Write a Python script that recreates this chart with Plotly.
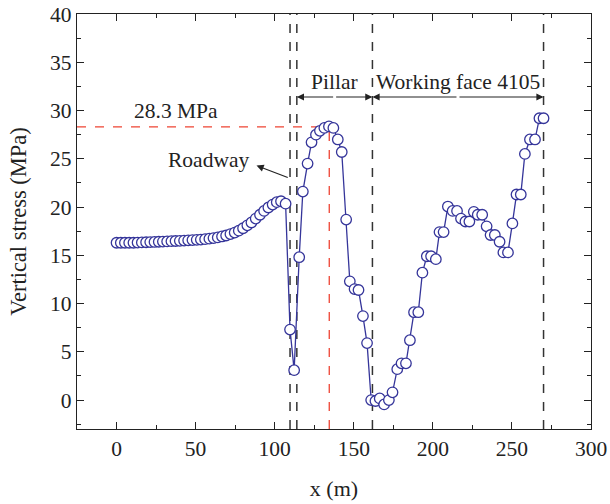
import plotly.graph_objects as go

# Left segment (coal ahead of roadway)
x_left = [0, 2.7, 5.3, 8.0, 10.7, 13.3, 16.0, 18.7, 21.3, 24.0, 26.7, 29.3, 32.0, 34.7, 37.3,
          40.0, 42.7, 45.3, 48.0, 50.7, 53.3, 56.0, 58.7, 61.3, 64.0, 66.7, 69.3, 72.0, 74.7,
          77.3, 80.0, 82.7, 85.3, 88.0, 90.7, 93.3, 96.0, 98.7, 101.3, 104.0, 106.9]
y_left = [16.3, 16.3, 16.3, 16.3, 16.3, 16.32, 16.33, 16.35, 16.37, 16.38, 16.4, 16.42, 16.44,
          16.46, 16.48, 16.5, 16.52, 16.55, 16.58, 16.6, 16.63, 16.67, 16.72, 16.78, 16.85,
          16.95, 17.05, 17.2, 17.35, 17.55, 17.8, 18.1, 18.4, 18.8, 19.2, 19.6, 19.95, 20.25,
          20.5, 20.6, 20.35]

# Roadway, pillar and working face 4105
x_right = [109.7, 112.3, 115.5, 117.8, 120.8, 123.3, 126.1, 128.6, 131.4, 134.3, 137.1, 139.9,
           142.4, 145.2, 147.5, 150.5, 153.0, 155.8, 158.4, 161.0, 163.7, 166.4, 169.2, 172.2,
           174.5, 177.5, 180.2, 183.0, 185.5, 188.1, 190.8, 193.4, 196.2, 198.9, 201.9, 204.2,
           206.8, 209.5, 212.5, 215.3, 217.8, 220.6, 223.1, 225.9, 228.4, 231.2, 234.0, 236.5,
           239.2, 242.2, 244.6, 247.5, 250.3, 252.9, 255.6, 258.2, 261.4, 264.6, 267.4, 270.0]
y_right = [7.3, 3.1, 14.8, 21.6, 24.5, 26.7, 27.5, 27.9, 28.2, 28.35, 28.2, 27.0,
           25.7, 18.7, 12.3, 11.5, 11.4, 8.7, 5.9, 0.0, -0.1, 0.17, -0.45, 0.0,
           0.8, 3.2, 3.8, 3.8, 6.2, 9.1, 9.1, 13.2, 14.9, 14.9, 14.6, 17.4,
           17.4, 20.05, 19.6, 19.6, 18.8, 18.5, 18.5, 19.5, 19.2, 19.2, 18.0, 17.1,
           17.1, 16.4, 15.3, 15.3, 18.3, 21.3, 21.3, 25.5, 27.0, 27.0, 29.2, 29.2]

x_vals = x_left + x_right
y_vals = y_left + y_right

boundary_x = [109.7, 114.0, 161.8, 270.0]
peak_x = 134.5
peak_y = 28.3
x_range = [-25, 300]
y_range = [-3, 40]

serif = "Liberation Serif"
blue = "#35359a"
ink = "#222222"

fig = go.Figure()
fig.add_trace(go.Scatter(
    x=x_vals, y=y_vals, mode="lines+markers",
    line=dict(color=blue, width=1.3),
    marker=dict(symbol="circle", size=10.5, color="white",
                line=dict(color=blue, width=1.3)),
    showlegend=False, cliponaxis=False))

shapes = []
for bx in boundary_x:
    shapes.append(dict(type="line", xref="x", yref="y", x0=bx, x1=bx, y0=y_range[0], y1=y_range[1],
                       line=dict(color="#333333", width=1.5, dash="dash"), layer="below"))
shapes.append(dict(type="line", xref="x", yref="y", x0=x_range[0], x1=peak_x, y0=peak_y, y1=peak_y,
                   line=dict(color="#ee4433", width=1.3, dash="dash"), layer="below"))
shapes.append(dict(type="line", xref="x", yref="y", x0=peak_x, x1=peak_x, y0=y_range[0], y1=peak_y,
                   line=dict(color="#ee4433", width=1.3, dash="dash"), layer="below"))

afont = dict(family=serif, size=21.5, color=ink)
annotations = [
    dict(x=37.5, y=29.9, text="28.3 MPa", showarrow=False, xref="x", yref="y", font=afont),
    dict(x=58, y=24.9, text="Roadway", showarrow=False, xref="x", yref="y", font=afont),
    dict(x=138, y=33.0, text="Pillar", showarrow=False, xref="x", yref="y", font=afont),
    dict(x=216, y=33.0, text="Working face 4105", showarrow=False, xref="x", yref="y", font=afont),
    # roadway arrow
    dict(x=88.5, y=24.3, ax=109.2, ay=23.0, xref="x", yref="y", axref="x", ayref="y",
         text="", showarrow=True, arrowhead=2, arrowsize=1.2, arrowwidth=1.2, arrowcolor=ink),
]
# double arrows for pillar and working face
for a, b in [(boundary_x[1], boundary_x[2]), (boundary_x[2], boundary_x[3])]:
    for s, e in [(a, b), (b, a)]:
        mid = (a + b) / 2
        annotations.append(dict(x=e, y=31.4, ax=mid, ay=31.4, xref="x", yref="y", axref="x", ayref="y",
                                text="", showarrow=True, arrowhead=2, arrowsize=1.2, arrowwidth=1.2,
                                arrowcolor=ink))

axis_common = dict(showline=True, linecolor=ink, linewidth=1.2, mirror="allticks",
                   ticks="inside", ticklen=7, tickwidth=1.2, tickcolor=ink,
                   showgrid=False, zeroline=False, automargin=False,
                   tickfont=dict(family=serif, size=21.5, color=ink))

fig.update_layout(
    width=610, height=504,
    margin=dict(l=77, r=19, t=14, b=75),
    plot_bgcolor="white", paper_bgcolor="white",
    shapes=shapes, annotations=annotations,
    xaxis=dict(range=x_range, dtick=50, tick0=0,
               minor=dict(dtick=25, ticks="inside", ticklen=4, tickcolor=ink),
               title=dict(text="x (m)", font=dict(family=serif, size=22, color=ink), standoff=20),
               **axis_common),
    yaxis=dict(range=y_range, dtick=5, tick0=0,
               minor=dict(dtick=2.5, ticks="inside", ticklen=4, tickcolor=ink),
               title=dict(text="Vertical stress (MPa)", font=dict(family=serif, size=22.5, color=ink), standoff=17),
               **axis_common),
)

# remove the browser's default 8 px body margin so the figure fills the window
fig.write_html("out.html",
               config={"displayModeBar": False},
               post_script="document.body.style.margin='0';document.body.style.overflow='hidden';")
